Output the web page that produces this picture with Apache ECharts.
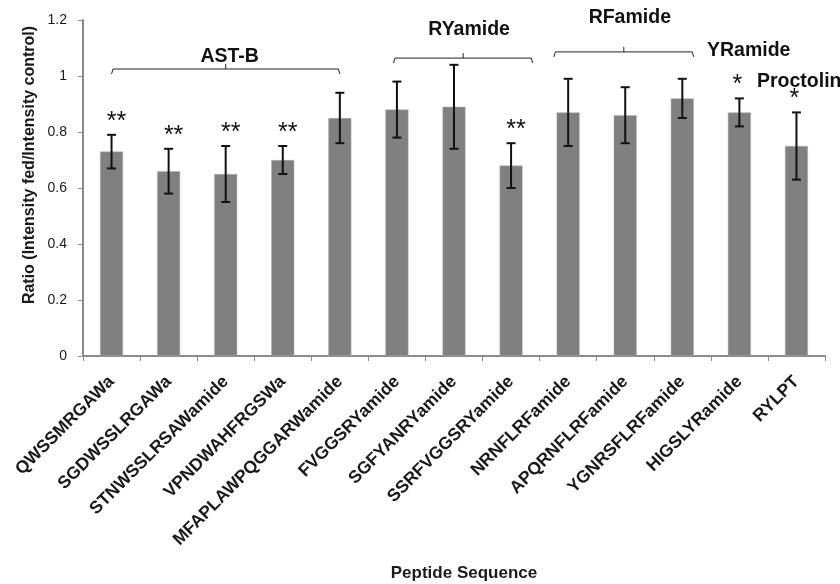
<!DOCTYPE html>
<html><head><meta charset="utf-8">
<script src="https://cdn.jsdelivr.net/npm/echarts@6/dist/echarts.min.js"></script>
<style>html,body{margin:0;padding:0;background:#fff}#c{width:840px;height:584px}</style>
</head><body><div id="c"></div>
<script>
const categories = ['QWSSMRGAWa','SGDWSSLRGAWa','STNWSSLRSAWamide','VPNDWAHFRGSWa','MFAPLAWPQGGARWamide','FVGGSRYamide','SGFYANRYamide','SSRFVGGSRYamide','NRNFLRFamide','APQRNFLRFamide','YGNRSFLRFamide','HIGSLYRamide','RYLPT'];
const ratios = [0.73,0.66,0.65,0.70,0.85,0.88,0.89,0.68,0.87,0.86,0.92,0.87,0.75];
const errLow = [0.67,0.58,0.55,0.65,0.76,0.78,0.74,0.60,0.75,0.76,0.85,0.82,0.63];
const errHigh = [0.79,0.74,0.75,0.75,0.94,0.98,1.04,0.76,0.99,0.96,0.99,0.92,0.87];
const stars = ['**','**','**','**','','','','**','','','','*','*'];
const groupNames = ['AST-B','RYamide','RFamide'];
const groupStart = [0,4.94,7.75];
const groupEnd = [4,7.38,10.2];
const groupLevel = [1.025,1.064,1.086];
const sideLabels = ['YRamide','Proctolin'];
const yTicks = [0,0.2,0.4,0.6,0.8,1,1.2];
const xTitle = 'Peptide Sequence';
const yTitle = 'Ratio (Intensity fed/Intensity control)';

const chart = echarts.init(document.getElementById('c'));
const font = 'Liberation Sans, Arial, sans-serif';
const labelGap = [12,28,34];
const labelShift = [4,6,6];
function catX(api, v){
  const i=Math.floor(v), f=v-i;
  const p=api.coord([i,0]);
  const bw=api.size([1,0])[0];
  return p[0]+f*bw;
}
chart.setOption({
  animation:false,
  grid:{left:83,right:15,top:20,bottom:228},
  xAxis:{type:'category',data:categories,
    axisLine:{lineStyle:{color:'#8a8a8a',width:2}},
    axisTick:{show:true,length:5,lineStyle:{color:'#8a8a8a'}},
    axisLabel:{rotate:45,interval:0,margin:23,fontFamily:font,fontWeight:'bold',fontSize:17.5,color:'#1a1a1a'}},
  yAxis:{type:'value',min:0,max:1.2,interval:0.2,
    axisLine:{show:true,lineStyle:{color:'#8a8a8a',width:2}},
    axisTick:{show:true,length:5,lineStyle:{color:'#8a8a8a'}},
    splitLine:{show:false},
    axisLabel:{fontFamily:font,fontSize:14,color:'#1a1a1a',margin:16,
      formatter:v=>{const t=yTicks.find(x=>Math.abs(x-v)<1e-9);return t===undefined?'':String(t);}}},
  series:[
    {type:'bar',data:ratios,barWidth:23,itemStyle:{color:'#808080',borderColor:'#b0b0b0',borderWidth:0.5}},
    {type:'custom',data:categories.map((c,i)=>[i,errLow[i],errHigh[i]]),z:5,
      renderItem:(params,api)=>{
        const i=params.dataIndex;
        const lo=api.coord([i,api.value(1)]);
        const hi=api.coord([i,api.value(2)]);
        const w=4.5;
        const st={stroke:'#111',lineWidth:2};
        const ch=[
          {type:'line',shape:{x1:lo[0],y1:lo[1],x2:hi[0],y2:hi[1]},style:st},
          {type:'line',shape:{x1:lo[0]-w,y1:lo[1],x2:lo[0]+w,y2:lo[1]},style:st},
          {type:'line',shape:{x1:hi[0]-w,y1:hi[1],x2:hi[0]+w,y2:hi[1]},style:st}
        ];
        const s=stars[i];
        if(s){ch.push({type:'text',x:hi[0]+(s.length>1?5:-2),y:hi[1]-13,style:{text:s,fill:'#111',font:'25px '+font,align:'center',verticalAlign:'middle'}});}
        return {type:'group',children:ch};
      }},
    {type:'custom',data:groupNames.map((g,k)=>[groupStart[k],groupEnd[k],groupLevel[k]]),z:5,
      renderItem:(params,api)=>{
        const k=params.dataIndex;
        const x1=catX(api,api.value(0)), x2=catX(api,api.value(1));
        const y=api.coord([0,api.value(2)])[1];
        const mx=(x1+x2)/2;
        const st={stroke:'#222',lineWidth:1,fill:null};
        return {type:'group',children:[
          {type:'polyline',shape:{points:[[x1,y+5],[x1+1.5,y],[x2-1.5,y],[x2,y+5]]},style:st},
          {type:'line',shape:{x1:mx,y1:y,x2:mx,y2:y-5},style:st},
          {type:'text',x:mx+labelShift[k],y:y-labelGap[k],style:{text:groupNames[k],fill:'#111',font:'bold 19.5px '+font,align:'center',verticalAlign:'middle'}}
        ]};
      }}
  ],
  graphic:[
    {type:'text',x:707,y:51,style:{text:sideLabels[0],fill:'#111',font:'bold 19.5px '+font,verticalAlign:'middle'}},
    {type:'text',x:757,y:82,style:{text:sideLabels[1],fill:'#111',font:'bold 19.5px '+font,verticalAlign:'middle'}},
    {type:'text',x:464,y:573,style:{text:xTitle,fill:'#1a1a1a',font:'bold 17px '+font,align:'center',verticalAlign:'middle'}},
    {type:'text',x:30,y:165,rotation:Math.PI/2,style:{text:yTitle,fill:'#1a1a1a',font:'bold 16px '+font,align:'center',verticalAlign:'middle'}}
  ]
});
</script></body></html>
